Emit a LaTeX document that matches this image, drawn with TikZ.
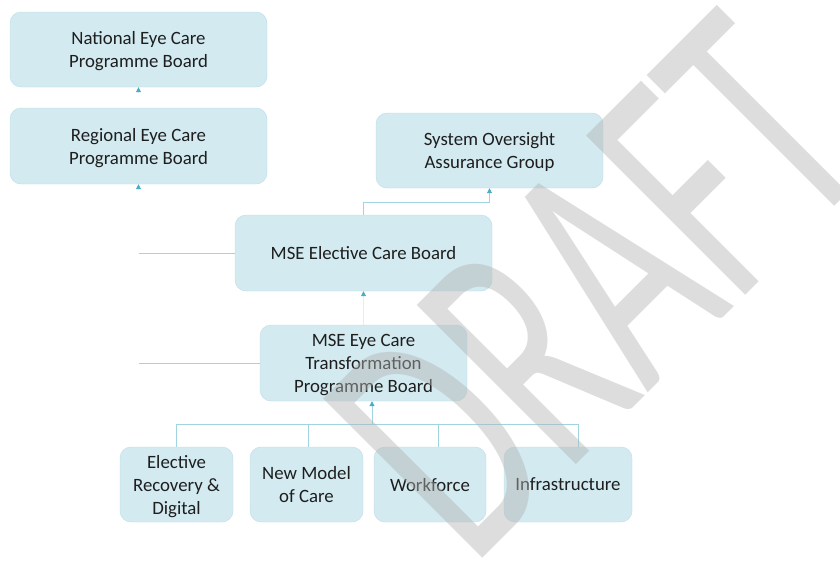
\documentclass[tikz,border=0pt]{standalone}
\usepackage{fontspec}
\setmainfont{Carlito}
\usetikzlibrary{arrows.meta}

\definecolor{boxfill}{RGB}{210,234,240}
\definecolor{boxline}{RGB}{188,221,231}
\definecolor{linkcol}{RGB}{160,212,224}
\definecolor{faintcol}{RGB}{222,240,245}
\definecolor{tipcol}{RGB}{75,172,198}
\definecolor{inkcol}{RGB}{30,30,30}
\definecolor{markgray}{RGB}{180,180,180}

\begin{document}
\begin{tikzpicture}[x=1pt, y=-1pt,
    board/.style={draw=boxline, fill=boxfill, rounded corners=11pt, align=center,
        text=inkcol, inner sep=0pt, text depth=0pt, font=\fontsize{18.8}{23}\selectfont},
    link/.style={draw=linkcol, line width=0.9pt},
    faint/.style={draw=faintcol, line width=0.9pt},
    uptip/.style={-{Triangle[width=5pt,length=5pt,color=tipcol]}}]
    \useasboundingbox (0,0) rectangle (840,573);
    \clip (0,0) rectangle (840,573);

    % Upper boards
    \node[board, minimum width=257, minimum height=75] (nat) at (138.5,49.5) {National Eye Care\\Programme Board};
    \node[board, minimum width=257, minimum height=76] (reg) at (138.5,146) {Regional Eye Care\\Programme Board};
    \node[board, minimum width=227, minimum height=75] (soag) at (489.5,150.5) {System Oversight\\Assurance Group};
    \node[board, minimum width=257, minimum height=76] (ecb) at (363.5,253) {MSE Elective Care Board};
    \node[board, minimum width=207, minimum height=76] (tpb) at (363.5,363) {MSE Eye Care\\Transformation\\Programme Board};

    % Workstreams
    \node[board, minimum width=113, minimum height=75] (erd) at (176.5,484.5) {Elective\\Recovery \&\\Digital};
    \node[board, minimum width=113, minimum height=75] (nmc) at (306.5,484.5) {New Model\\of Care};
    \node[board, minimum width=112, minimum height=75] (wf) at (430,484.5) {Workforce};
    \node[board, minimum width=128, minimum height=75] (inf) at (568,484.5) {Infrastructure};

    % Links to the regional board
    \draw[faint, uptip] ([yshift=-6]nat.south) -- (nat.south);
    \draw[faint, uptip] ([yshift=-6]reg.south) -- (reg.south);
    \coordinate (ecbleft) at (reg.south |- ecb.west);
    \coordinate (tpbleft) at (reg.south |- tpb.west);
    \draw[link] (ecb.west) -- (ecbleft);
    \draw[link] (tpb.west) -- (tpbleft);

    % Links up the chain
    \coordinate (soagbend) at (ecb.north |- 0,202);
    \draw[link, uptip] (ecb.north) -- (soagbend) -| (soag.south);
    \draw[faint, uptip] (tpb.north) -- (ecb.south);

    % Workstreams into the programme board
    \coordinate (tpbfoot) at ([xshift=8.5]tpb.south);
    \coordinate (bus) at (tpbfoot |- 0,424);
    \draw[link, uptip] (bus) -- (tpbfoot);
    \draw[link] (erd.north) |- (bus);
    \draw[link] ([xshift=1.5]nmc.north) |- (bus);
    \draw[link] ([xshift=8]wf.north) |- (bus);
    \draw[link] ([xshift=10]inf.north) |- (bus);

    % Watermark
    \node[rotate=45, yscale=1.64, text=markgray, text opacity=0.45, inner sep=0pt,
        font=\fontsize{214}{214}\selectfont] (mark) at (596,286) {DRAFT};
\end{tikzpicture}
\end{document}
